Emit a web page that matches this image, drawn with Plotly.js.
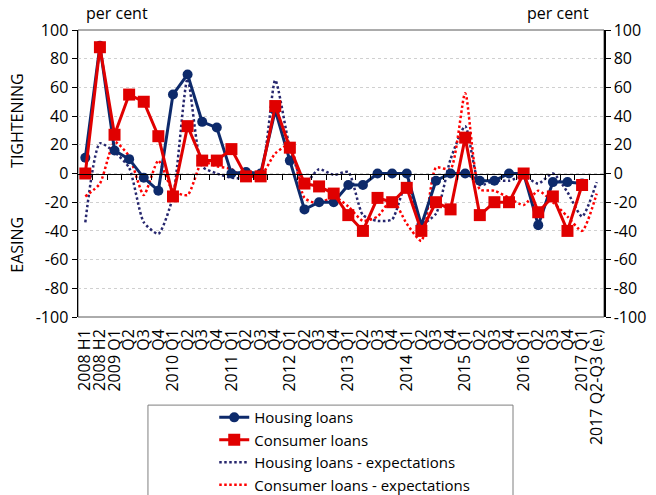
<!DOCTYPE html>
<html>
<head>
<meta charset="utf-8">
<script src="https://cdn.plot.ly/plotly-3.0.1.min.js"></script>
<style>
  html, body { margin: 0; padding: 0; background: #fff; }
  #myDiv { width: 656px; height: 495px; }
</style>
</head>
<body>
<div id="myDiv"></div>
<script>
// Category labels (x axis)
var periods = ['2008 H1', '2008 H2', '2009 Q1', 'Q2', 'Q3', 'Q4',
    '2010 Q1', 'Q2', 'Q3', 'Q4', '2011 Q1', 'Q2', 'Q3', 'Q4',
    '2012 Q1', 'Q2', 'Q3', 'Q4', '2013 Q1', 'Q2', 'Q3', 'Q4',
    '2014 Q1', 'Q2', 'Q3', 'Q4', '2015 Q1', 'Q2', 'Q3', 'Q4',
    '2016 Q1', 'Q2', 'Q3', 'Q4', '2017 Q1', '2017 Q2-Q3 (e.)'];

// Net percentages
var housing = [11, 89, 16, 10, -3, -12, 55, 69, 36, 32, 0, 1, 0, 44, 9, -25, -20, -20,
    -8, -8, 0, 0, 0, -36, -5, 0, 0, -5, -5, 0, 0, -36, -6, -6, -7, null];
var consumer = [0, 88, 27, 55, 50, 26, -16, 33, 9, 9, 17, -2, -2, 47, 18, -7, -9, -14,
    -29, -40, -17, -20, -10, -40, -20, -25, 25, -29, -20, -20, 0, -27, -16, -40, -8, null];
var housingExp = [-34, 21, 15, 4, -34, -42, -16, 66, 5, 0, -3, -3, 1, 65, 18, -7, 3, -1,
    1, -29, -33, -32, -6, -35, -28, 10, 33, -8, -5, -5, -2, -7, 0, -13, -30, -6];
var consumerExp = [-16, -7, 22, 12, -15, 9, -12, -15, 8, 5, 3, -4, -2, 14, 20, -17, -21, -16,
    -23, -33, -30, -18, -35, -47, 4, 3, 56, -11, -12, -17, -22, -12, -20, -30, -40, -14];

// y tick values, written with a plain hyphen like the original
var yTickVals = [-100, -80, -60, -40, -20, 0, 20, 40, 60, 80, 100];

var idx = periods.map(function(p, i) { return i; });
var bounds = periods.slice(1).map(function(p, i) { return i + 0.5; });

var blue = '#0d2a6b';
var red = '#e00000';

var data = [
    {
        x: idx, y: housingExp, name: 'Housing loans - expectations', legendrank: 3,
        mode: 'lines', line: { color: '#27276e', width: 2.5, dash: '2.5px,2.5px', shape: 'spline', smoothing: 0.6 }
    },
    {
        x: idx, y: consumerExp, name: 'Consumer loans - expectations', legendrank: 4,
        mode: 'lines', line: { color: '#ff0000', width: 2.5, dash: '2.5px,2.5px', shape: 'spline', smoothing: 0.6 }
    },
    {
        x: idx, y: housing, name: 'Housing loans', legendrank: 1,
        mode: 'lines+markers', line: { color: blue, width: 3 },
        marker: { symbol: 'circle', size: 10, color: blue }
    },
    {
        x: idx, y: consumer, name: 'Consumer loans', legendrank: 2,
        mode: 'lines+markers', line: { color: red, width: 3 },
        marker: { symbol: 'square', size: 12, color: red }
    },
    // carrier so the zero-line axis and the right axis get drawn
    {
        x: idx, y: housing, xaxis: 'x2', yaxis: 'y2', mode: 'lines', line: { width: 0 },
        opacity: 0, showlegend: false, hoverinfo: 'skip'
    }
];

var yTicks = { range: [-100, 100], tickvals: yTickVals, ticktext: yTickVals.map(String),
    ticks: 'outside', ticklen: 5, tickcolor: '#000', showline: true, linecolor: '#000',
    linewidth: 1.5, zeroline: false, automargin: false, tickfont: { size: 16, color: '#000' } };

var layout = {
    width: 656, height: 495,
    margin: { l: 78, r: 52, t: 30, b: 178, autoexpand: false },
    font: { family: 'Open Sans, sans-serif', size: 16, color: '#000' },
    paper_bgcolor: '#fff', plot_bgcolor: '#fff',
    showlegend: true,
    legend: { x: 0.259, y: -0.293, xanchor: 'left', yanchor: 'top', bgcolor: 'rgba(0,0,0,0)',
        font: { size: 15 }, tracegroupgap: 0 },
    xaxis: {
        range: [-0.5, periods.length - 0.5], tickvals: idx, ticktext: periods, tickangle: -90,
        showgrid: false, zeroline: false, showline: false, ticks: '', automargin: false,
        ticklabelstandoff: 8, tickfont: { size: 16 }
    },
    xaxis2: {
        overlaying: 'x', anchor: 'free', position: 0.5, range: [-0.5, periods.length - 0.5],
        tickvals: bounds, showticklabels: false, ticks: 'outside', ticklen: 5, tickcolor: '#000',
        showline: true, linecolor: '#000', linewidth: 1.5, showgrid: false, zeroline: false,
        automargin: false
    },
    yaxis: Object.assign({}, yTicks, {
        showgrid: true, gridcolor: '#d0d0d0', griddash: 'dot', gridwidth: 1
    }),
    yaxis2: Object.assign({}, yTicks, { overlaying: 'y', side: 'right', anchor: 'x', showgrid: false }),
    shapes: [
        // plot area border
        { type: 'rect', xref: 'paper', yref: 'paper', x0: 0, x1: 1, y0: 0, y1: 1,
          line: { color: '#595959', width: 1 }, layer: 'below' },
        // legend frame
        { type: 'rect', xref: 'paper', yref: 'paper', x0: 0.133, x1: 0.827, y0: -0.75, y1: -0.307,
          line: { color: '#7f7f7f', width: 1 } }
    ],
    annotations: [
        { text: 'per cent', xref: 'paper', yref: 'paper', x: 0.012, y: 1.06, xanchor: 'left',
          yanchor: 'middle', showarrow: false, font: { size: 16 } },
        { text: 'per cent', xref: 'paper', yref: 'paper', x: 0.975, y: 1.06, xanchor: 'right',
          yanchor: 'middle', showarrow: false, font: { size: 16 } },
        { text: 'TIGHTENING', xref: 'paper', yref: 'paper', x: -0.115, y: 0.685, textangle: -90,
          xanchor: 'center', yanchor: 'middle', showarrow: false, font: { size: 16 } },
        { text: 'EASING', xref: 'paper', yref: 'paper', x: -0.115, y: 0.25, textangle: -90,
          xanchor: 'center', yanchor: 'middle', showarrow: false, font: { size: 16 } }
    ]
};

Plotly.newPlot('myDiv', data, layout, { displayModeBar: false, staticPlot: true });
</script>
</body>
</html>
